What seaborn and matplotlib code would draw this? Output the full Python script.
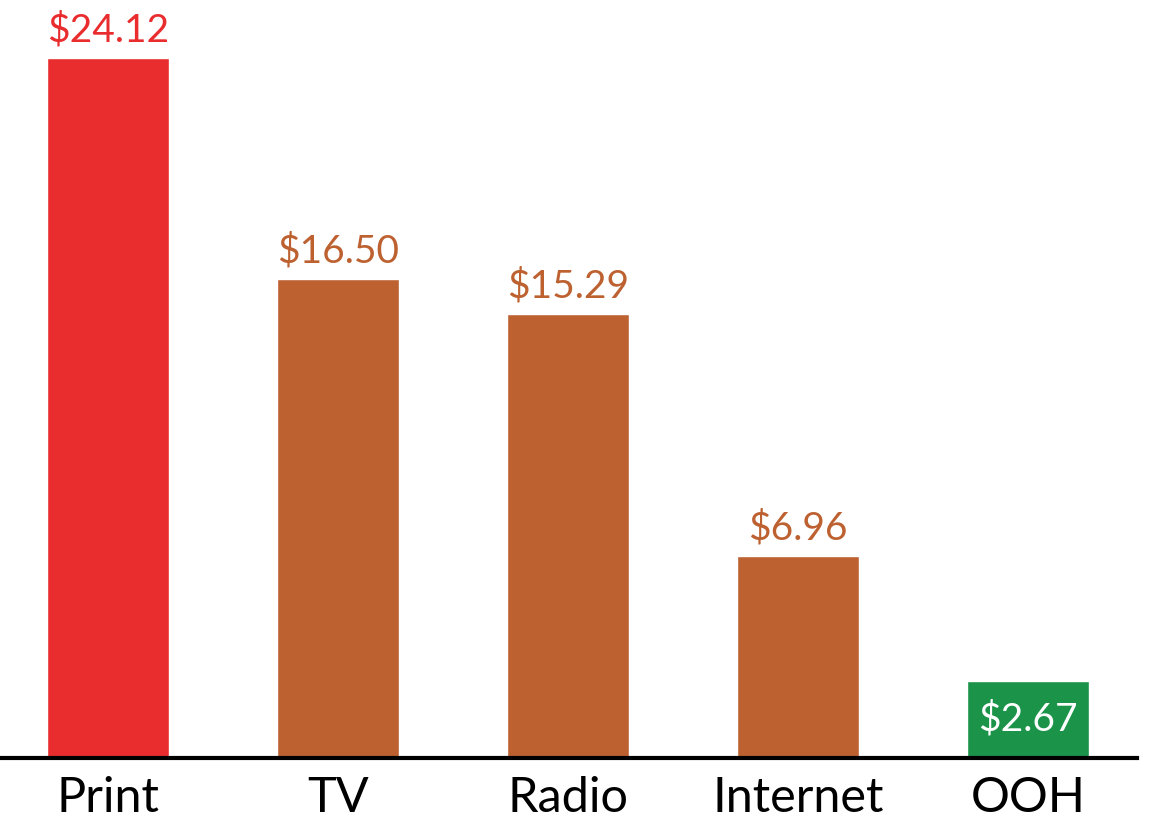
import matplotlib
matplotlib.use("Agg")
import matplotlib.pyplot as plt
import seaborn as sns
import pandas as pd

# data
channels = ["Print", "TV", "Radio", "Internet", "OOH"]
costs = [24.12, 16.50, 15.29, 6.96, 2.67]
value_labels = ["$24.12", "$16.50", "$15.29", "$6.96", "$2.67"]
bar_colors = ["#E92D2F", "#BD6131", "#BD6131", "#BD6131", "#1B944A"]

df = pd.DataFrame({"channel": channels, "cost": costs})

sns.set_style("white")
plt.rcParams["font.family"] = ["Lato", "DejaVu Sans"]

fig = plt.figure(figsize=(11.54, 8.39), dpi=100)
ax = fig.add_axes([0, (839 - 758) / 839, 1137 / 1154, 758 / 839])

sns.barplot(data=df, x="channel", y="cost", hue="channel", palette=bar_colors,
            width=0.53, saturation=1, legend=False, ax=ax)

ax.set_xlim(-108 / 230, (1137 - 108) / 230)
ax.set_ylim(0, 24.12 * 758 / 700)

# value labels above the bars, OOH sits inside its bar in white
for i, (v, lab) in enumerate(zip(costs, value_labels)):
    if i == len(costs) - 1:
        ax.text(i, v / 2, lab, ha="center", va="center", color="white", fontsize=28)
    else:
        ax.annotate(lab, (i, v), xytext=(0, 7), textcoords="offset points",
                    ha="center", va="bottom", color=bar_colors[i], fontsize=28)

ax.set_xlabel("")
ax.set_ylabel("")
ax.set_yticks([])
ax.tick_params(axis="x", length=0, pad=13, labelsize=35, labelcolor="black")
for s in ["top", "right", "left"]:
    ax.spines[s].set_visible(False)
ax.spines["bottom"].set_linewidth(3)
ax.spines["bottom"].set_color("black")

fig.savefig("out.png", dpi=100)
